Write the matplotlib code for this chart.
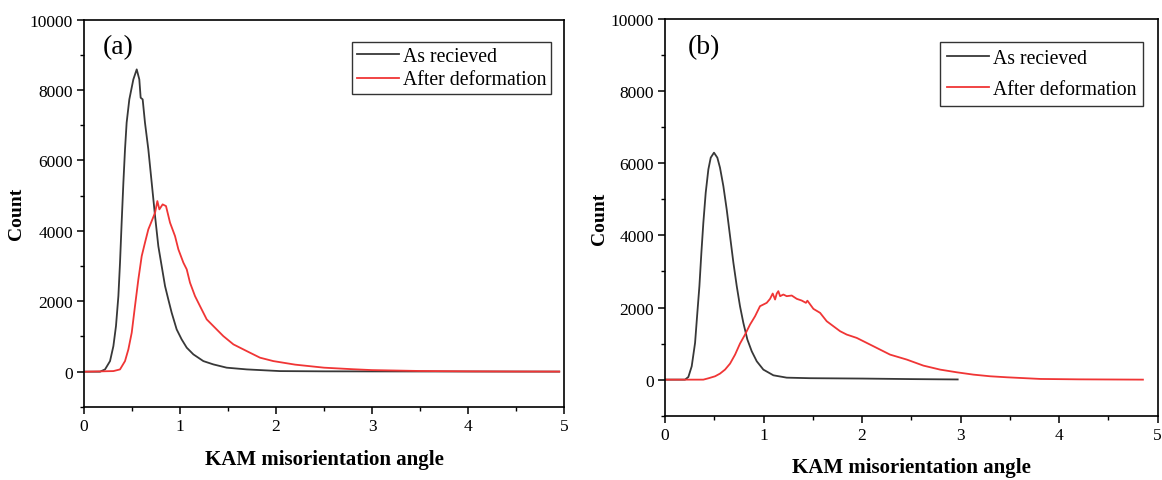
import matplotlib
matplotlib.use("Agg")
import matplotlib.pyplot as plt
from matplotlib.ticker import MultipleLocator

plt.rcParams['font.family'] = ['Liberation Serif', 'DejaVu Serif']

# ---------- data ----------
# panel (a): as received
a_recv_x = [0.0, 0.167, 0.219, 0.271, 0.306, 0.333, 0.358, 0.375, 0.392, 0.41, 0.427, 0.444,
            0.472, 0.514, 0.549, 0.576, 0.590, 0.611, 0.635, 0.67, 0.705, 0.74, 0.774, 0.809,
            0.844, 0.878, 0.913, 0.965, 1.017, 1.07, 1.139, 1.243, 1.347, 1.486, 1.695, 2.04,
            2.5, 3.0, 4.0, 4.95]
a_recv_y = [0, 0, 65, 301, 727, 1296, 2148, 3097, 4233, 5369, 6315, 7074,
            7736, 8304, 8588, 8304, 7784, 7736, 7074, 6315, 5369, 4420, 3568, 3000,
            2432, 2054, 1676, 1202, 918, 682, 492, 301, 207, 114, 65, 17,
            10, 8, 5, 2]

# panel (a): after deformation
a_def_x = [0.0, 0.306, 0.375, 0.427, 0.462, 0.497, 0.531, 0.566, 0.601, 0.635, 0.67, 0.705,
           0.74, 0.764, 0.785, 0.819, 0.854, 0.896, 0.948, 0.983, 1.035, 1.07, 1.104, 1.156,
           1.208, 1.278, 1.347, 1.451, 1.556, 1.695, 1.833, 1.972, 2.2, 2.5, 2.8, 3.0,
           3.5, 4.0, 4.5, 4.95]
a_def_y = [0, 17, 65, 301, 633, 1108, 1864, 2622, 3284, 3665, 4043, 4279,
           4517, 4847, 4611, 4753, 4705, 4233, 3852, 3474, 3097, 2906, 2528, 2148,
           1864, 1486, 1296, 1011, 776, 585, 398, 301, 200, 114, 70, 45,
           20, 10, 5, 3]

# panel (b): as received
b_recv_x = [0.0, 0.203, 0.237, 0.271, 0.305, 0.328, 0.349, 0.369, 0.389, 0.413, 0.44, 0.464,
            0.497, 0.531, 0.558, 0.592, 0.626, 0.66, 0.694, 0.728, 0.761, 0.795, 0.836, 0.88,
            0.931, 0.998, 1.1, 1.235, 1.47, 2.0, 2.5, 2.97]
b_recv_y = [0, 0, 74, 370, 1019, 1852, 2593, 3519, 4352, 5185, 5833, 6157,
            6296, 6157, 5880, 5370, 4722, 3981, 3241, 2593, 2037, 1574, 1111, 787,
            509, 278, 120, 55, 40, 30, 15, 5]

# panel (b): after deformation
b_def_x = [0.0, 0.389, 0.44, 0.508, 0.558, 0.609, 0.66, 0.711, 0.761, 0.812, 0.863, 0.914,
           0.964, 1.032, 1.066, 1.093, 1.117, 1.134, 1.15, 1.168, 1.201, 1.235, 1.286, 1.337,
           1.387, 1.43, 1.445, 1.506, 1.574, 1.641, 1.709, 1.777, 1.844, 1.946, 2.115, 2.284,
           2.454, 2.622, 2.792, 2.96, 3.13, 3.3, 3.47, 3.81, 4.2, 4.85]
b_def_y = [0, 0, 37, 93, 167, 278, 444, 694, 1000, 1250, 1528, 1759,
           2037, 2130, 2241, 2389, 2222, 2389, 2454, 2315, 2361, 2315, 2333, 2241,
           2194, 2130, 2190, 1963, 1852, 1620, 1481, 1343, 1250, 1157, 926, 694,
           556, 389, 278, 204, 139, 93, 65, 19, 8, 0]

labels = ["As recieved", "After deformation"]
panel_names = ["(a)", "(b)"]
c_black = '#383838'
c_red = '#f03535'

# ---------- plotting ----------
fig = plt.figure(figsize=(11.62, 4.81), dpi=100)
ax1 = fig.add_axes([0.0723, 0.152, 0.4131, 0.805])
ax2 = fig.add_axes([0.5723, 0.1337, 0.4240, 0.8245])

panels = [(ax1, a_recv_x, a_recv_y, a_def_x, a_def_y),
          (ax2, b_recv_x, b_recv_y, b_def_x, b_def_y)]

iter = 0
for ax, rx, ry, dx, dy in panels:
    ax.plot(rx, ry, color=c_black, lw=1.3, label=labels[0])
    ax.plot(dx, dy, color=c_red, lw=1.3, label=labels[1])

    ax.set_xlim(0, 5)
    ax.set_ylim(-1000, 10000)
    ax.xaxis.set_major_locator(MultipleLocator(1))
    ax.xaxis.set_minor_locator(MultipleLocator(0.5))
    ax.yaxis.set_major_locator(MultipleLocator(2000))
    ax.yaxis.set_minor_locator(MultipleLocator(1000))
    ax.tick_params(which='major', direction='out', length=5, width=1.1, labelsize=12.5, pad=3)
    ax.tick_params(which='minor', direction='out', length=3, width=1.0)
    for sp in ax.spines.values():
        sp.set_linewidth(1.2)

    ax.set_xlabel("KAM misorientation angle", fontsize=15, fontweight='bold')
    ax.set_ylabel("Count", fontsize=14, fontweight='bold')

    ax.text(0.04 if iter == 0 else 0.047, 0.93, panel_names[iter], transform=ax.transAxes,
            fontsize=20, ha='left', va='center')
    iter += 1

ax1.xaxis.set_label_coords(0.5, -0.11)
ax2.xaxis.set_label_coords(0.5, -0.105)
ax1.yaxis.set_label_coords(-0.123, 0.5)
ax2.yaxis.set_label_coords(-0.116, 0.5)

leg1 = ax1.legend(loc='upper right', bbox_to_anchor=(0.973, 0.942), fontsize=14.2,
                  frameon=True, fancybox=False, edgecolor='black', borderaxespad=0,
                  handlelength=2.1, handletextpad=0.2, labelspacing=0.22, borderpad=0.25)
leg2 = ax2.legend(loc='upper right', bbox_to_anchor=(0.970, 0.942), fontsize=14.2,
                  frameon=True, fancybox=False, edgecolor='black', borderaxespad=0,
                  handlelength=2.1, handletextpad=0.2, labelspacing=0.62, borderpad=0.35)
for leg in [leg1, leg2]:
    leg.get_frame().set_linewidth(1.0)

fig.savefig("out.png", dpi=100)
